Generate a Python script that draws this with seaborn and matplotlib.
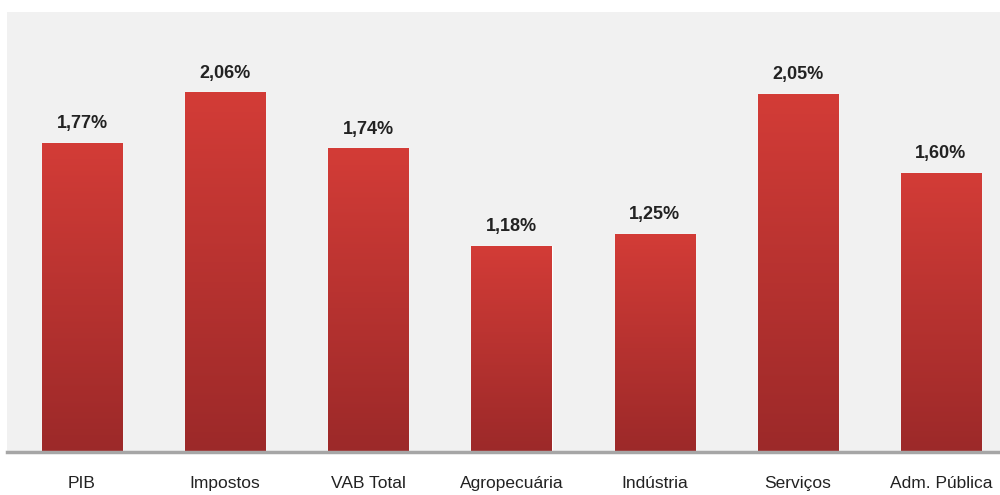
import matplotlib
matplotlib.use("Agg")
import matplotlib.pyplot as plt
import numpy as np
import pandas as pd
import seaborn as sns

categorias = ["PIB", "Impostos", "VAB Total", "Agropecuária", "Indústria", "Serviços", "Adm. Pública"]
taxas = [1.77, 2.06, 1.74, 1.18, 1.25, 2.05, 1.60]
rotulos = ["1,77%", "2,06%", "1,74%", "1,18%", "1,25%", "2,05%", "1,60%"]

df = pd.DataFrame({"cat": categorias, "taxa": taxas})

sns.set_style("white")
plt.rcParams["font.family"] = ["Liberation Sans Narrow", "Liberation Sans", "DejaVu Sans"]

fig = plt.figure(figsize=(10, 4.95), dpi=100)
ax = fig.add_axes([0.007, 0.087, 0.993, 0.889])
ax.set_facecolor("#f1f1f1")

sns.barplot(data=df, x="cat", y="taxa", color="#b83230", width=0.56, ax=ax, saturation=1)

# gradiente vertical nas barras
grad = np.linspace(0, 1, 256).reshape(-1, 1)
cmap = matplotlib.colors.LinearSegmentedColormap.from_list("g", ["#9c2929", "#d33c37"])
for p in ax.patches:
    x0, y0 = p.get_x(), p.get_y()
    w, h = p.get_width(), p.get_height()
    im = ax.imshow(grad, cmap=cmap, aspect="auto", origin="lower",
                   extent=[x0, x0 + w, y0, y0 + h], zorder=p.get_zorder() + 0.1)
    im.set_clip_path(p)

for i, (v, r) in enumerate(zip(taxas, rotulos)):
    ax.text(i, v + 0.06, r, ha="center", va="bottom", fontsize=13,
            fontweight="bold", color="#222222")

ax.set_xlim(-0.524, 6.413)
ax.set_ylim(0, 2.52)
ax.set_xlabel("")
ax.set_ylabel("")
ax.set_yticks([])
ax.tick_params(axis="x", length=0, pad=17, labelsize=12.5, labelcolor="#222222")
for s in ["top", "right", "left"]:
    ax.spines[s].set_visible(False)
ax.spines["bottom"].set_color("#a6a6a6")
ax.spines["bottom"].set_linewidth(2.5)

fig.savefig("out.png", dpi=100, facecolor="white")
